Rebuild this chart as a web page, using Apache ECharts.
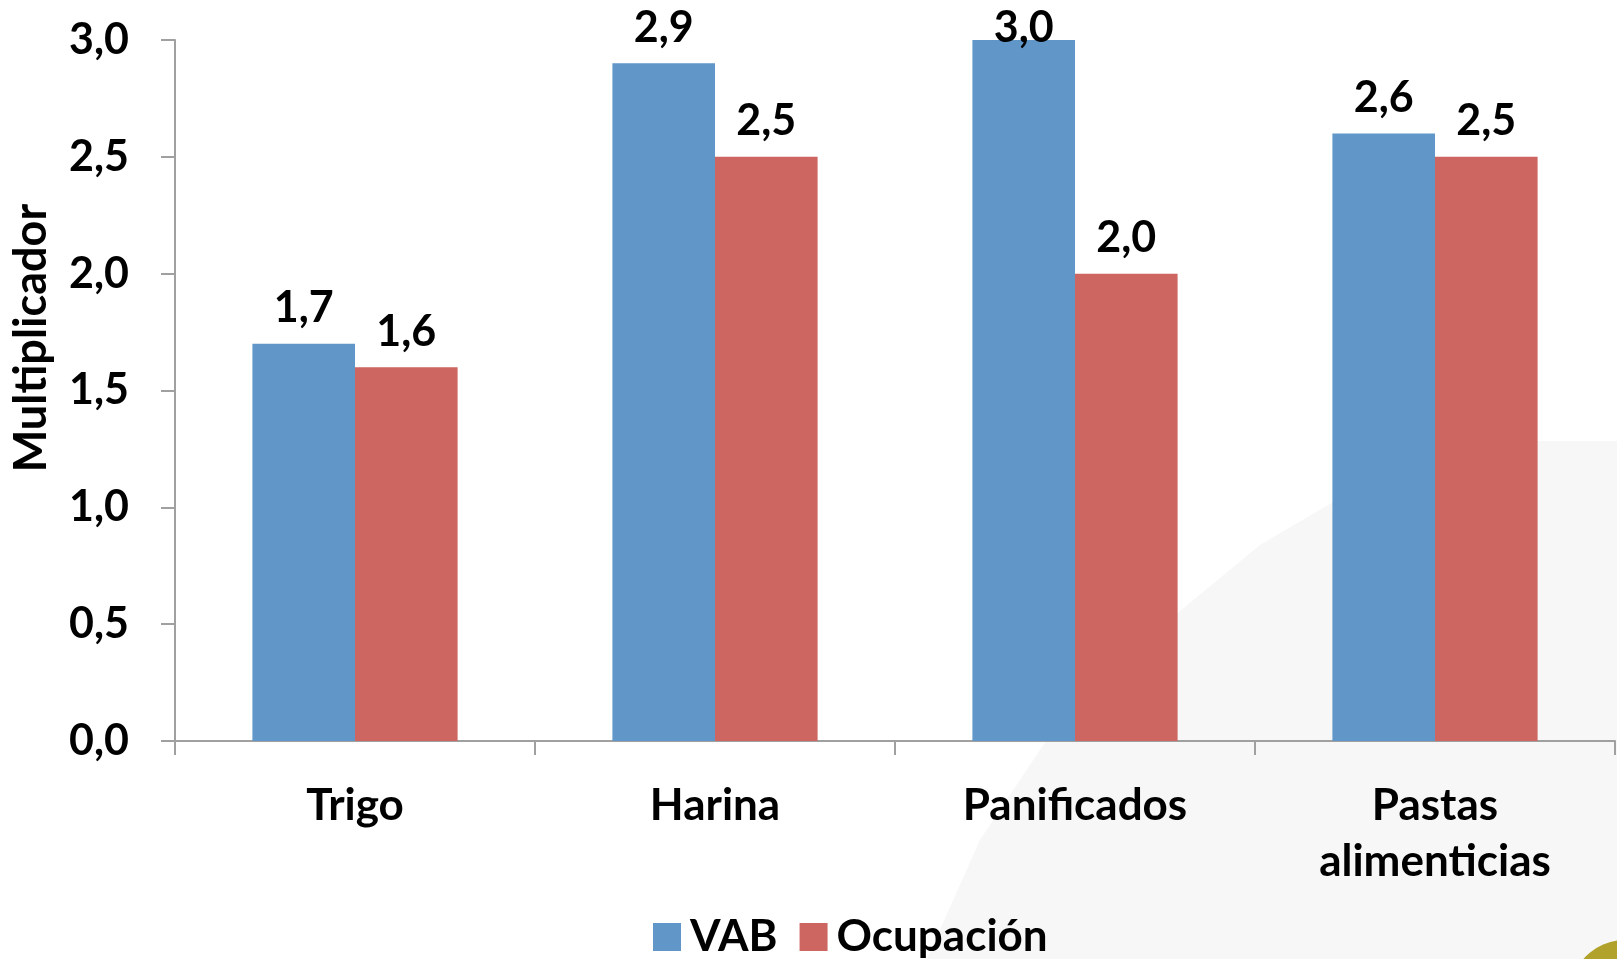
<!DOCTYPE html>
<html>
<head>
<meta charset="utf-8">
<script src="https://cdn.jsdelivr.net/npm/echarts@6/dist/echarts.min.js"></script>
<style>
  html, body { margin: 0; padding: 0; background: #fff; }
  #chart { width: 1617px; height: 959px; }
</style>
</head>
<body>
<div id="chart"></div>
<script>
const categories = ['Trigo', 'Harina', 'Panificados', 'Pastas\nalimenticias']
const vab = [1.7, 2.9, 3.0, 2.6]
const ocupacion = [1.6, 2.5, 2.0, 2.5]
const yMin = 0
const yMax = 3
const yStep = 0.5

const FONT = 'Lato'
const fmt = v => v.toFixed(1).replace('.', ',')

// labels at the very top of the axis overlap the bar a little, like the original
const withLabels = arr => arr.map(v => ({
    value: v,
    label: v >= yMax ? { distance: 0, offset: [0, 10] } : undefined,
}))

const barLabel = {
    show: true,
    position: 'top',
    distance: 14,
    color: '#000',
    fontSize: 43,
    fontWeight: 'bold',
    fontFamily: FONT,
    formatter: p => fmt(p.value),
}

const chart = echarts.init(document.getElementById('chart'))

chart.setOption({
    backgroundColor: '#ffffff',
    animation: false,
    textStyle: { fontFamily: FONT },
    grid: { left: 175, right: 2, top: 40, bottom: 218 },
    legend: {
        left: 648,
        top: 910,
        itemWidth: 28,
        itemHeight: 28,
        itemGap: 22,
        icon: 'rect',
        textStyle: { fontFamily: FONT, fontSize: 44, fontWeight: 'bold', color: '#000', padding: [0, 0, 0, 4] },
        data: ['VAB', 'Ocupación'],
    },
    graphic: [{
        // faint watermark in the lower right
        type: 'polygon',
        z: -10,
        silent: true,
        shape: {
            points: [[1179, 612], [1260, 545], [1340, 498], [1440, 455], [1520, 441], [1617, 441],
                [1617, 959], [927, 959], [980, 840], [1060, 720], [1120, 660]],
        },
        style: { fill: '#f7f7f7' },
    }, {
        type: 'circle',
        z: -10,
        silent: true,
        shape: { cx: 1625, cy: 995, r: 55 },
        style: { fill: '#b0a22a' },
    }, {
        type: 'text',
        x: 31,
        y: 338,
        rotation: Math.PI / 2,
        style: {
            text: 'Multiplicador',
            fill: '#000',
            font: 'bold 45px Lato',
            textAlign: 'center',
            textVerticalAlign: 'middle',
        },
    }],
    xAxis: {
        type: 'category',
        data: categories,
        axisLine: { lineStyle: { color: '#a0a0a0', width: 2 } },
        axisTick: { show: true, length: 14, lineStyle: { color: '#a0a0a0', width: 2 } },
        axisLabel: {
            color: '#000',
            fontSize: 44,
            fontWeight: 'bold',
            fontFamily: FONT,
            lineHeight: 56,
            margin: 37,
            interval: 0,
        },
    },
    yAxis: {
        type: 'value',
        min: yMin,
        max: yMax,
        interval: yStep,
        axisLine: { show: true, lineStyle: { color: '#a0a0a0', width: 2 } },
        axisTick: { show: true, length: 14, lineStyle: { color: '#a0a0a0', width: 2 } },
        splitLine: { show: false },
        axisLabel: {
            color: '#000',
            fontSize: 43,
            fontWeight: 'bold',
            fontFamily: FONT,
            margin: 46,
            formatter: v => fmt(v),
        },
    },
    series: [{
        name: 'VAB',
        type: 'bar',
        data: withLabels(vab),
        barGap: '0%',
        barCategoryGap: '43%',
        itemStyle: { color: '#6196c9' },
        label: barLabel,
    }, {
        name: 'Ocupación',
        type: 'bar',
        data: withLabels(ocupacion),
        itemStyle: { color: '#cd6560' },
        label: barLabel,
    }],
})
</script>
</body>
</html>
